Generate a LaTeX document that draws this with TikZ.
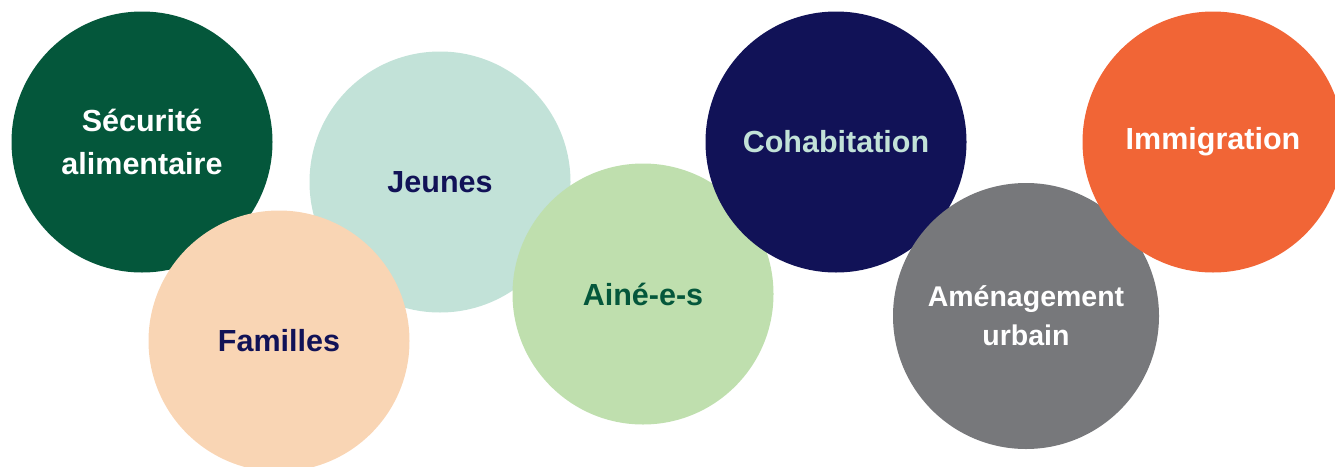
\documentclass[tikz,border=0pt]{standalone}
\usepackage{fontspec}
\setmainfont{Liberation Sans}
\definecolor{darkgreen}{HTML}{04573B}
\definecolor{peach}{HTML}{F9D5B4}
\definecolor{mint}{HTML}{C2E2D8}
\definecolor{leaf}{HTML}{BFDFAE}
\definecolor{navy}{HTML}{111257}
\definecolor{slate}{HTML}{77787B}
\definecolor{tangerine}{HTML}{F16536}
\begin{document}
\begin{tikzpicture}[x=1pt, y=1pt,
    bubble/.style={circle, minimum size=261pt, inner sep=0pt, align=center,
      font=\bfseries\fontsize{30.5}{43}\selectfont}]
        \useasboundingbox (0,0) rectangle (1335,-466);
        \node[bubble, fill=darkgreen, text=white] at (142,-142) (securite) {Sécurité\\alimentaire};
        \node[bubble, fill=mint, text=navy] at (440,-182) (jeunes) {Jeunes};
        \node[bubble, fill=peach, text=navy] at (279,-341) (familles) {Familles};
        \node[bubble, fill=leaf, text=darkgreen] at (643,-294) (aines) {Ainé-e-s};
        \node[bubble, fill=navy, text=mint] at (836,-142) (cohabitation) {Cohabitation};
        \node[bubble, fill=slate, text=white, minimum size=266pt,
          font=\bfseries\fontsize{28.5}{39}\selectfont] at (1026,-316) (amenagement) {Aménagement\\urbain};
        \node[bubble, fill=tangerine, text=white] at (1213,-142) (immigration) {Immigration};
      \end{tikzpicture}
\end{document}
